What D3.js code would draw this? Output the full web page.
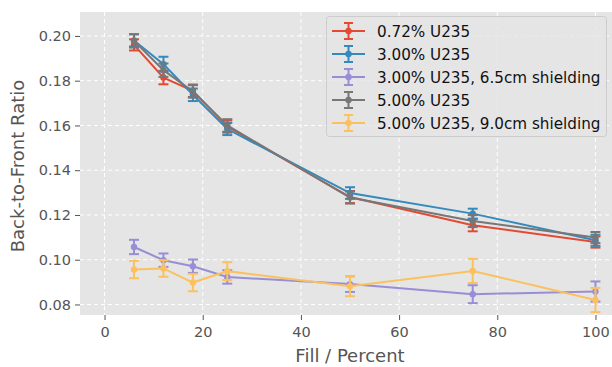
<!DOCTYPE html>
<html><head><meta charset="utf-8">
<script src="https://cdn.jsdelivr.net/npm/d3@7"></script>
<style>body{margin:0;background:#fff}svg{display:block}</style>
</head><body>
<svg id="c" width="612" height="367"></svg>
<script>
const fills = [6, 12, 18, 25, 50, 75, 100];
const seriesNames = ["0.72% U235", "3.00% U235", "3.00% U235, 6.5cm shielding", "5.00% U235", "5.00% U235, 9.0cm shielding"];
const val072 = [0.1960, 0.1814, 0.1755, 0.1595, 0.1280, 0.1154, 0.1079];
const err072 = [0.0025, 0.0030, 0.0028, 0.0027, 0.0027, 0.0027, 0.0025];
const val300 = [0.1980, 0.1874, 0.1737, 0.1584, 0.1298, 0.1206, 0.1087];
const err300 = [0.0027, 0.0033, 0.0028, 0.0027, 0.0026, 0.0022, 0.0025];
const val300s = [0.1057, 0.0998, 0.0971, 0.0923, 0.0891, 0.0846, 0.0858];
const err300s = [0.0032, 0.0030, 0.0030, 0.0030, 0.0035, 0.0040, 0.0045];
const val500 = [0.1978, 0.1847, 0.1752, 0.1600, 0.1278, 0.1173, 0.1099];
const err500 = [0.0030, 0.0030, 0.0028, 0.0028, 0.0027, 0.0027, 0.0025];
const val500s = [0.0956, 0.0961, 0.0898, 0.0949, 0.0882, 0.0950, 0.0820];
const err500s = [0.0039, 0.0037, 0.0039, 0.0040, 0.0045, 0.0054, 0.0054];
const xTicks = [0, 20, 40, 60, 80, 100];
const yTicks = [0.08, 0.10, 0.12, 0.14, 0.16, 0.18, 0.20];
const colors = ["#E24A33", "#348ABD", "#988ED5", "#777777", "#FBC15E"];

const series = [
  {name: seriesNames[0], v: val072, e: err072},
  {name: seriesNames[1], v: val300, e: err300},
  {name: seriesNames[2], v: val300s, e: err300s},
  {name: seriesNames[3], v: val500, e: err500},
  {name: seriesNames[4], v: val500s, e: err500s}
];

const svg = d3.select("#c");
const L = 80, R = 620, T = 12, B = 315;
const x = d3.scaleLinear().domain([-5, 105]).range([L, R]);
const y = d3.scaleLinear().domain([0.0753, 0.2107]).range([B, T]);

svg.append("rect").attr("x", L).attr("y", T).attr("width", R - L).attr("height", B - T).attr("fill", "#E5E5E5");

const g = svg.append("g");
g.selectAll(".gx").data(xTicks).enter().append("line")
  .attr("x1", d => x(d)).attr("x2", d => x(d)).attr("y1", T).attr("y2", B)
  .attr("stroke", "#fff").attr("stroke-width", 1).attr("stroke-dasharray", "4,3");
g.selectAll(".gy").data(yTicks).enter().append("line")
  .attr("x1", L).attr("x2", R).attr("y1", d => y(d)).attr("y2", d => y(d))
  .attr("stroke", "#fff").attr("stroke-width", 1).attr("stroke-dasharray", "4,3");

const xAxis = svg.append("g").attr("transform", `translate(0,${B})`)
  .call(d3.axisBottom(x).tickValues(xTicks).tickSize(5).tickPadding(7).tickFormat(d3.format("d")));
const yAxis = svg.append("g").attr("transform", `translate(${L},0)`)
  .call(d3.axisLeft(y).tickValues(yTicks).tickSize(5).tickPadding(4).tickFormat(d3.format(".2f")));
[xAxis, yAxis].forEach(a => {
  a.select(".domain").remove();
  a.selectAll(".tick line").attr("stroke", "#555").attr("stroke-width", 1);
  a.selectAll(".tick text").attr("fill", "#555").style("font-family", "DejaVu Sans").style("font-size", "14.5px");
});

svg.append("text").attr("x", x(50)).attr("y", 361.5).attr("text-anchor", "middle")
  .attr("fill", "#555").style("font-family", "DejaVu Sans").style("font-size", "18px").text("Fill / Percent");
svg.append("text").attr("transform", `translate(24,166) rotate(-90)`).attr("text-anchor", "middle")
  .attr("fill", "#555").style("font-family", "DejaVu Sans").style("font-size", "18px").text("Back-to-Front Ratio");

const line = d3.line().x(d => x(d[0])).y(d => y(d[1]));
series.forEach((s, i) => {
  const pts = fills.map((f, j) => [f, s.v[j], s.e[j]]);
  const sg = svg.append("g");
  sg.append("path").attr("d", line(pts)).attr("fill", "none").attr("stroke", colors[i]).attr("stroke-width", 2);
  pts.forEach(p => {
    const cx = x(p[0]), y1 = y(p[1] - p[2]), y2 = y(p[1] + p[2]);
    sg.append("line").attr("x1", cx).attr("x2", cx).attr("y1", y1).attr("y2", y2).attr("stroke", colors[i]).attr("stroke-width", 2);
    [y1, y2].forEach(yy => sg.append("line").attr("x1", cx - 5).attr("x2", cx + 5).attr("y1", yy).attr("y2", yy).attr("stroke", colors[i]).attr("stroke-width", 2));
    sg.append("circle").attr("cx", cx).attr("cy", y(p[1])).attr("r", 3.2).attr("fill", colors[i]);
  });
});

// legend
const lg = svg.append("g");
lg.append("rect").attr("x", 326.5).attr("y", 16.5).attr("width", 280).attr("height", 120).attr("rx", 3)
  .attr("fill", "#E5E5E5").attr("fill-opacity", 0.8).attr("stroke", "#CCCCCC").attr("stroke-width", 1);
series.forEach((s, i) => {
  const yy = 31 + i * 23;
  const c = colors[i];
  lg.append("line").attr("x1", 332).attr("x2", 365).attr("y1", yy).attr("y2", yy).attr("stroke", c).attr("stroke-width", 2);
  lg.append("line").attr("x1", 348.5).attr("x2", 348.5).attr("y1", yy - 8).attr("y2", yy + 8).attr("stroke", c).attr("stroke-width", 2);
  [yy - 8, yy + 8].forEach(v => lg.append("line").attr("x1", 344).attr("x2", 353).attr("y1", v).attr("y2", v).attr("stroke", c).attr("stroke-width", 2));
  lg.append("circle").attr("cx", 348.5).attr("cy", yy).attr("r", 3.2).attr("fill", c);
  lg.append("text").attr("x", 377).attr("y", yy + 5.5).attr("fill", "#111").style("font-family", "DejaVu Sans").style("font-size", "15.2px").text(s.name);
});
</script>
</body></html>
